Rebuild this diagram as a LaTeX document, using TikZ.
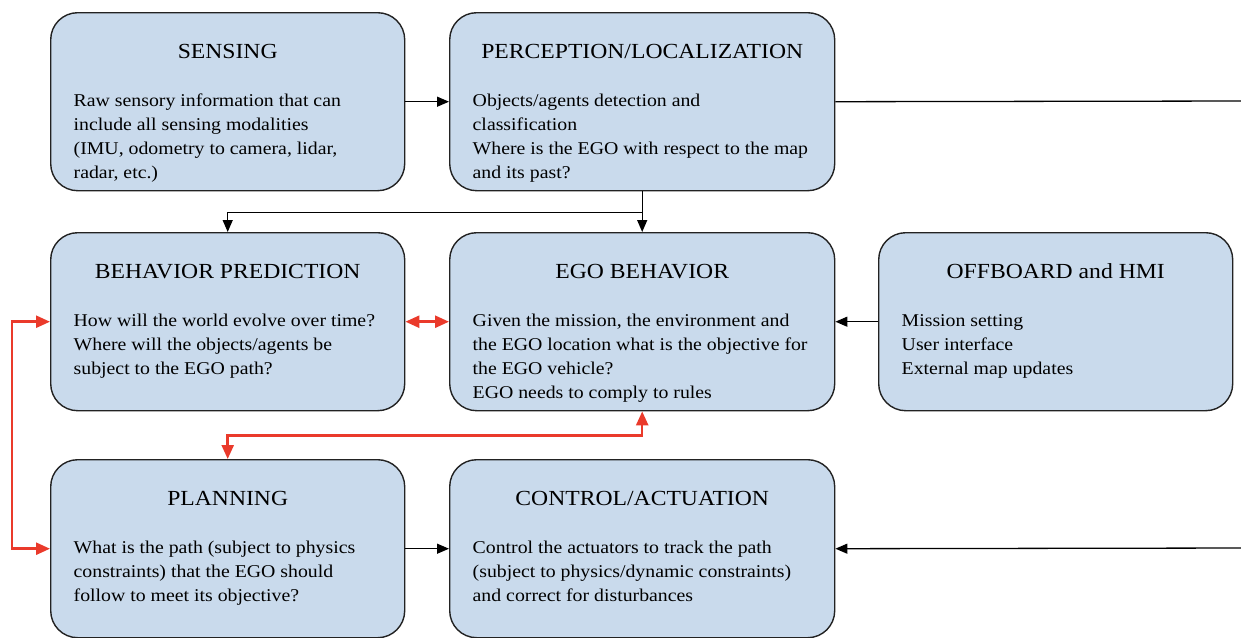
\documentclass[tikz,border=0pt]{standalone}
\usepackage{fontspec}
\setmainfont[FakeStretch=1.1]{Liberation Serif}
\usetikzlibrary{arrows.meta,calc}
\definecolor{boxfill}{HTML}{C9DAEC}
\definecolor{boxline}{HTML}{222222}
\definecolor{redline}{HTML}{EA3A2B}
\tikzset{
  box/.style={draw=boxline, line width=1.4pt, fill=boxfill, rounded corners=27pt,
    rectangle, inner sep=0pt, anchor=north west, minimum height=178pt},
  narrowbox/.style={box, minimum width=354pt},
  widebox/.style={box, minimum width=385pt},
  title/.style={anchor=base, inner sep=0pt, font=\fontsize{21.5}{26}\selectfont},
  body/.style={anchor=base west, inner sep=0pt, align=left, font=\fontsize{18}{24}\selectfont},
  arr/.style={draw=black, line width=1.3pt, -{Triangle[length=12pt,width=10pt]}},
  plainline/.style={draw=black, line width=1.3pt},
  redarr/.style={draw=redline, line width=2.5pt, {Triangle[length=14pt,width=12pt]}-{Triangle[length=14pt,width=12pt]}}
}
\begin{document}
\begin{tikzpicture}[x=1pt,y=-1pt]
\useasboundingbox (0,0) rectangle (1241,637);
% boxes
\node[narrowbox] (sens) at (50,12) {};
\node[widebox]   (perc) at (449,12) {};
\node[narrowbox] (bp)   at (50,232) {};
\node[widebox]   (ego)  at (449,232) {};
\node[narrowbox] (off)  at (878,232) {};
\node[narrowbox] (plan) at (50,459) {};
\node[widebox]   (ctrl) at (449,459) {};
% titles
\node[title] (sensT) at ($(sens.north)+(0,46)$) {SENSING};
\node[title] (percT) at ($(perc.north)+(0,46)$) {PERCEPTION/LOCALIZATION};
\node[title] (bpT)   at ($(bp.north)+(0,46)$) {BEHAVIOR PREDICTION};
\node[title] (egoT)  at ($(ego.north)+(0,46)$) {EGO BEHAVIOR};
\node[title] (offT)  at ($(off.north)+(0,46)$) {OFFBOARD and HMI};
\node[title] (planT) at ($(plan.north)+(0,46)$) {PLANNING};
\node[title] (ctrlT) at ($(ctrl.north)+(0,46)$) {CONTROL/ACTUATION};
% bodies (base anchor = baseline of the last line)
\node[body] (sensB) at ($(sens.north west)+(23.5,166.5)$) {Raw sensory information that can\\include all sensing modalities\\(IMU, odometry to camera, lidar,\\radar, etc.)};
\node[body] (percB) at ($(perc.north west)+(23.5,166.5)$) {Objects/agents detection and\\classification\\Where is the EGO with respect to the map\\and its past?};
\node[body] (bpB) at ($(bp.north west)+(23.5,142.5)$) {How will the world evolve over time?\\Where will the objects/agents be\\subject to the EGO path?};
\node[body] (egoB) at ($(ego.north west)+(23.5,166.5)$) {Given the mission, the environment and\\the EGO location what is the objective for\\the EGO vehicle?\\EGO needs to comply to rules};
\node[body] (offB) at ($(off.north west)+(23.5,142.5)$) {Mission setting\\User interface\\External map updates};
\node[body] (planB) at ($(plan.north west)+(23.5,142.5)$) {What is the path (subject to physics\\constraints) that the EGO should\\follow to meet its objective?};
\node[body] (ctrlB) at ($(ctrl.north west)+(23.5,142.5)$) {Control the actuators to track the path\\(subject to physics/dynamic constraints)\\and correct for disturbances};
% free ends
\coordinate (outP) at (1250,101);
\coordinate (outC) at (1250,548);
% connectors
\draw[arr] (sens.east) -- (perc.west);
\draw[plainline] (perc.east) -- (outP);
\draw[arr] (perc.south) -- (ego.north);
\draw[arr] (perc.south) -- ++(0,21) -| (bp.north);
\draw[redarr] (bp.east) -- (ego.west);
\draw[arr] (off.west) -- (ego.east);
\draw[redarr] (ego.south) -- ++(0,24) -| (plan.north);
\draw[redarr] (bp.west) -- ++(-38,0) |- (plan.west);
\draw[arr] (plan.east) -- (ctrl.west);
\draw[arr] (outC) -- (ctrl.east);
\end{tikzpicture}
\end{document}
